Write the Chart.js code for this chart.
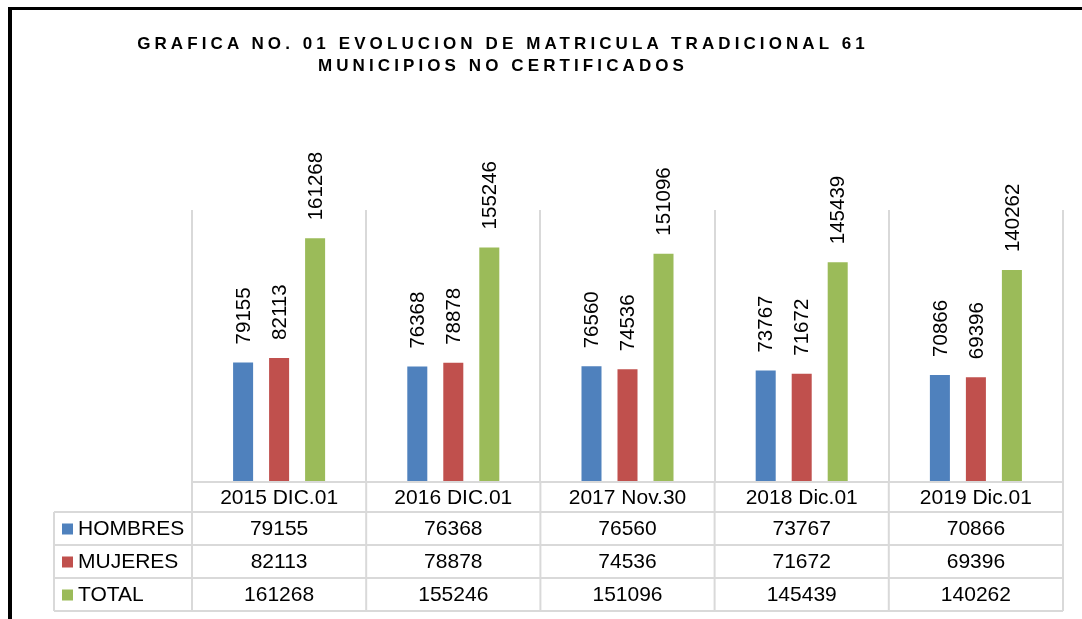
<!DOCTYPE html>
<html>
<head>
<meta charset="utf-8">
<script src="https://cdn.jsdelivr.net/npm/chart.js@4.4.1/dist/chart.umd.min.js"></script>
<style>
  html, body { margin: 0; padding: 0; background: #fff; }
  #wrap { position: relative; width: 1082px; height: 619px; overflow: hidden; }
  #marco { position: absolute; left: 8px; top: 7px; width: 1100px; height: 700px;
           border-top: 3px solid #000; border-left: 4px solid #000; box-sizing: border-box; }
  #titulo { position: absolute; left: 103px; width: 800px; top: 33px; text-align: center;
            font-family: "Liberation Sans", Arial, sans-serif; font-weight: bold; font-size: 17px;
            letter-spacing: 4.1px; line-height: 22px; color: #000; }
  canvas { position: absolute; left: 0; top: 0; }
</style>
</head>
<body>
<div id="wrap">
  <div id="marco"></div>
  <canvas id="grafica" width="1082" height="619"></canvas>
  <div id="titulo">GRAFICA NO. 01 EVOLUCION DE MATRICULA TRADICIONAL 61<br>MUNICIPIOS NO CERTIFICADOS</div>
</div>
<script>
// Datos de la grafica
const categorias = ["2015 DIC.01", "2016 DIC.01", "2017 Nov.30", "2018 Dic.01", "2019 Dic.01"];
const series = ["HOMBRES", "MUJERES", "TOTAL"];
const hombres = [79155, 76368, 76560, 73767, 70866];
const mujeres = [82113, 78878, 74536, 71672, 69396];
const total = [161268, 155246, 151096, 145439, 140262];
const colores = ["#4F81BD", "#C0504D", "#9BBB59"];

const fuente = '"Liberation Sans", Arial, sans-serif';
const lineaTabla = "#d9d9d9";

// etiquetas verticales encima de cada barra
const etiquetasBarras = {
    id: "etiquetasBarras",
    afterDatasetsDraw(chart) {
        const ctx = chart.ctx;
        ctx.save();
        ctx.font = "20.5px " + fuente;
        ctx.fillStyle = "#000";
        ctx.textAlign = "left";
        ctx.textBaseline = "middle";
        chart.data.datasets.forEach((ds, i) => {
            const meta = chart.getDatasetMeta(i);
            meta.data.forEach((bar, j) => {
                ctx.save();
                ctx.translate(bar.x, bar.y - 18);
                ctx.rotate(-Math.PI / 2);
                ctx.fillText(String(ds.data[j]), 0, 1);
                ctx.restore();
            });
        });
        ctx.restore();
    }
};

// tabla de datos debajo del eje
const tablaDatos = {
    id: "tablaDatos",
    afterDraw(chart) {
        const ctx = chart.ctx;
        const area = chart.chartArea;
        const xs = chart.scales.x;
        const colW = xs.getPixelForValue(1) - xs.getPixelForValue(0);
        const izq = 54;
        const filaCat = 30;
        const filaH = 33;
        const y0 = area.bottom;
        const y1 = y0 + filaCat;
        const yFin = y1 + filaH * series.length;

        ctx.save();
        ctx.strokeStyle = lineaTabla;
        ctx.lineWidth = 2;
        ctx.beginPath();
        ctx.moveTo(area.left, y0); ctx.lineTo(area.right, y0);
        for (let r = 0; r <= series.length; r++) {
            ctx.moveTo(izq, y1 + r * filaH); ctx.lineTo(area.right, y1 + r * filaH);
        }
        for (let c = 0; c <= categorias.length; c++) {
            const x = xs.getPixelForValue(0) - colW / 2 + c * colW;
            ctx.moveTo(x, y0); ctx.lineTo(x, yFin);
        }
        ctx.moveTo(izq, y1); ctx.lineTo(izq, yFin);
        ctx.stroke();

        ctx.font = "21px " + fuente;
        ctx.fillStyle = "#000";
        ctx.textBaseline = "middle";
        ctx.textAlign = "center";
        categorias.forEach((cat, i) => {
            ctx.fillText(cat, xs.getPixelForValue(i), y0 + filaCat / 2 + 1);
        });
        chart.data.datasets.forEach((ds, r) => {
            const yc = y1 + r * filaH + filaH / 2 + 1;
            ds.data.forEach((v, i) => {
                ctx.textAlign = "center";
                ctx.fillText(String(v), xs.getPixelForValue(i), yc);
            });
            ctx.fillStyle = ds.backgroundColor;
            ctx.fillRect(62, yc - 6, 11, 11);
            ctx.fillStyle = "#000";
            ctx.textAlign = "left";
            ctx.fillText(ds.label, 78, yc);
        });
        ctx.restore();
    }
};

const datosSerie = [hombres, mujeres, total];

new Chart(document.getElementById("grafica"), {
    type: "bar",
    data: {
        labels: categorias,
        datasets: series.map((nombre, i) => ({
            label: nombre,
            data: datosSerie[i],
            backgroundColor: colores[i],
            borderWidth: 0
        }))
    },
    options: {
        responsive: false,
        animation: false,
        devicePixelRatio: 1,
        categoryPercentage: 0.62,
        barPercentage: 0.556,
        layout: { padding: { left: 192, right: 19, top: 210, bottom: 137 } },
        plugins: {
            legend: { display: false },
            title: { display: false },
            tooltip: { enabled: false }
        },
        scales: {
            x: {
                display: true,
                ticks: { display: false },
                grid: { display: true, offset: true, color: lineaTabla, lineWidth: 2, drawTicks: false },
                border: { display: false }
            },
            y: {
                display: false,
                min: 0,
                max: 180000
            }
        }
    },
    plugins: [etiquetasBarras, tablaDatos]
});
</script>
</body>
</html>
